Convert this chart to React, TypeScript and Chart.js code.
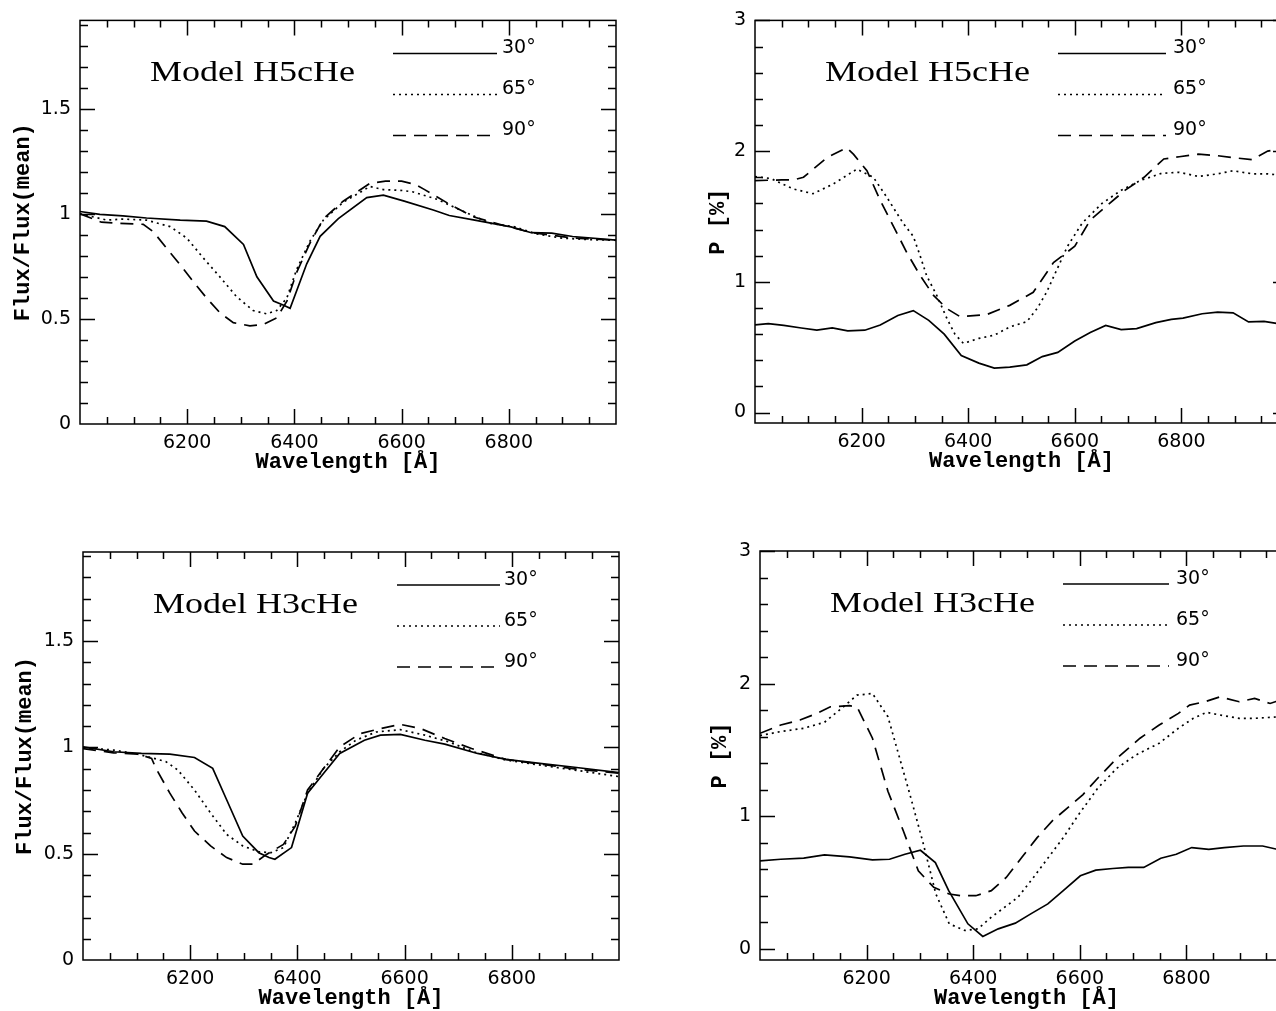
import React, { useEffect, useRef } from "react";
import { Chart, registerables } from "chart.js";
Chart.register(...registerables);

// ---------- labels ----------
const angleLabels = ["30°", "65°", "90°"];
const xTickValues = [6200, 6400, 6600, 6800];
const fluxTickValues = [0, 0.5, 1, 1.5];
const polTickValues = [0, 1, 2, 3];
const xAxisTitle = "Wavelength [Å]";
const fluxAxisTitle = "Flux/Flux(mean)";
const polAxisTitle = "P [%]";
const titleH5 = "Model H5cHe";
const titleH3 = "Model H3cHe";

// ---------- Model H5cHe : flux ----------
const h5FluxWl30 = [6000, 6037, 6080, 6124, 6187, 6236, 6270, 6305, 6330, 6361, 6380, 6392, 6423, 6448, 6482, 6535, 6566, 6605, 6659, 6689, 6739, 6804, 6842, 6880, 6919, 7000];
const h5Flux30 = [1.011, 0.997, 0.99, 0.98, 0.97, 0.965, 0.939, 0.854, 0.7, 0.585, 0.565, 0.55, 0.762, 0.893, 0.977, 1.077, 1.089, 1.06, 1.018, 0.992, 0.969, 0.938, 0.91, 0.908, 0.892, 0.875];
const h5FluxWl65 = [6000, 6050, 6080, 6124, 6168, 6199, 6230, 6261, 6292, 6323, 6348, 6367, 6386, 6404, 6429, 6454, 6491, 6541, 6566, 6597, 6620, 6666, 6712, 6766, 6811, 6850, 6896, 6949, 7000];
const h5Flux65 = [1.0, 0.97, 0.975, 0.97, 0.939, 0.885, 0.79, 0.7, 0.606, 0.54, 0.524, 0.54, 0.6, 0.734, 0.87, 0.97, 1.055, 1.13, 1.115, 1.112, 1.105, 1.069, 1.015, 0.954, 0.938, 0.905, 0.885, 0.877, 0.874];
const h5FluxWl90 = [6000, 6040, 6070, 6118, 6137, 6162, 6187, 6211, 6236, 6261, 6286, 6317, 6342, 6367, 6386, 6404, 6429, 6454, 6491, 6541, 6570, 6600, 6625, 6643, 6689, 6735, 6781, 6842, 6919, 7000];
const h5Flux90 = [1.0, 0.96, 0.955, 0.95, 0.914, 0.835, 0.757, 0.678, 0.6, 0.529, 0.482, 0.467, 0.474, 0.505, 0.584, 0.72, 0.86, 0.976, 1.06, 1.145, 1.155, 1.155, 1.14, 1.115, 1.046, 0.985, 0.951, 0.911, 0.885, 0.874];

// ---------- Model H5cHe : polarization ----------
const h5PolWl30 = [6000, 6025, 6054, 6087, 6116, 6145, 6174, 6206, 6235, 6268, 6297, 6326, 6355, 6387, 6420, 6449, 6478, 6510, 6539, 6568, 6600, 6629, 6658, 6687, 6716, 6752, 6781, 6803, 6839, 6868, 6897, 6926, 6955, 6990, 7000];
const h5Pol30 = [0.67, 0.68, 0.667, 0.647, 0.63, 0.647, 0.625, 0.63, 0.67, 0.743, 0.78, 0.705, 0.6, 0.436, 0.378, 0.34, 0.348, 0.365, 0.428, 0.46, 0.547, 0.612, 0.667, 0.635, 0.642, 0.688, 0.713, 0.723, 0.756, 0.768, 0.763, 0.693, 0.698, 0.675, 0.67];
const h5PolWl65 = [6000, 6030, 6072, 6109, 6147, 6191, 6222, 6247, 6278, 6297, 6310, 6322, 6341, 6360, 6375, 6391, 6420, 6449, 6478, 6510, 6530, 6547, 6566, 6586, 6614, 6651, 6687, 6723, 6763, 6796, 6832, 6868, 6897, 6933, 6962, 7000];
const h5Pol65 = [1.806, 1.79, 1.71, 1.674, 1.749, 1.862, 1.8, 1.649, 1.448, 1.348, 1.197, 1.047, 0.896, 0.72, 0.6, 0.529, 0.567, 0.592, 0.655, 0.695, 0.8, 0.92, 1.09, 1.27, 1.45, 1.6, 1.7, 1.776, 1.83, 1.838, 1.806, 1.826, 1.85, 1.826, 1.826, 1.81];
const h5PolWl90 = [6000, 6050, 6072, 6091, 6135, 6172, 6185, 6210, 6235, 6260, 6285, 6310, 6335, 6360, 6385, 6435, 6478, 6522, 6560, 6600, 6629, 6658, 6694, 6730, 6767, 6796, 6832, 6868, 6904, 6933, 6962, 7000];
const h5Pol90 = [1.774, 1.78, 1.78, 1.8, 1.95, 2.026, 1.975, 1.85, 1.623, 1.423, 1.222, 1.047, 0.896, 0.795, 0.733, 0.75, 0.82, 0.92, 1.147, 1.272, 1.473, 1.574, 1.7, 1.8, 1.94, 1.957, 1.977, 1.965, 1.947, 1.934, 2.0, 2.03];

// ---------- Model H3cHe : flux ----------
const h3FluxWl30 = [6000, 6057, 6109, 6162, 6208, 6242, 6268, 6298, 6328, 6347, 6358, 6389, 6419, 6449, 6479, 6525, 6555, 6592, 6638, 6675, 6736, 6789, 6864, 6917, 7000];
const h3Flux30 = [1.003, 0.98, 0.972, 0.969, 0.953, 0.902, 0.754, 0.583, 0.505, 0.482, 0.474, 0.529, 0.785, 0.879, 0.972, 1.034, 1.058, 1.062, 1.034, 1.016, 0.972, 0.944, 0.922, 0.907, 0.882];
const h3FluxWl65 = [6000, 6057, 6102, 6132, 6155, 6177, 6208, 6238, 6268, 6298, 6328, 6351, 6374, 6396, 6419, 6449, 6479, 6509, 6547, 6592, 6638, 6683, 6728, 6789, 6864, 6925, 7000];
const h3Flux65 = [1.0, 0.988, 0.969, 0.949, 0.933, 0.894, 0.8, 0.692, 0.591, 0.537, 0.509, 0.505, 0.529, 0.645, 0.785, 0.902, 0.98, 1.034, 1.073, 1.084, 1.058, 1.026, 0.98, 0.941, 0.913, 0.891, 0.863];
const h3FluxWl90 = [6000, 6057, 6102, 6128, 6136, 6162, 6185, 6208, 6238, 6268, 6298, 6317, 6343, 6374, 6396, 6419, 6449, 6479, 6517, 6555, 6592, 6630, 6675, 6725, 6789, 6864, 6925, 7000];
const h3Flux90 = [0.995, 0.975, 0.969, 0.949, 0.902, 0.785, 0.692, 0.607, 0.537, 0.482, 0.451, 0.451, 0.498, 0.544, 0.63, 0.8, 0.902, 1.003, 1.065, 1.089, 1.109, 1.089, 1.042, 0.995, 0.944, 0.918, 0.897, 0.879];

// ---------- Model H3cHe : polarization ----------
const h3PolWl30 = [6000, 6039, 6082, 6121, 6168, 6211, 6243, 6272, 6301, 6329, 6354, 6390, 6418, 6447, 6479, 6508, 6540, 6569, 6601, 6630, 6662, 6691, 6720, 6752, 6781, 6810, 6842, 6871, 6907, 6943, 6978, 7000];
const h3Pol30 = [0.663, 0.675, 0.683, 0.708, 0.693, 0.67, 0.675, 0.713, 0.743, 0.65, 0.438, 0.188, 0.093, 0.15, 0.193, 0.263, 0.338, 0.438, 0.55, 0.593, 0.605, 0.613, 0.613, 0.683, 0.713, 0.763, 0.75, 0.763, 0.775, 0.775, 0.743, 0.73];
const h3PolWl65 = [6000, 6039, 6082, 6121, 6153, 6182, 6211, 6240, 6262, 6283, 6305, 6330, 6355, 6384, 6409, 6434, 6459, 6484, 6513, 6541, 6569, 6598, 6634, 6670, 6706, 6749, 6785, 6813, 6838, 6863, 6899, 6928, 6976, 7000];
const h3Pol65 = [1.608, 1.638, 1.663, 1.708, 1.813, 1.913, 1.925, 1.75, 1.438, 1.138, 0.813, 0.413, 0.188, 0.138, 0.15, 0.238, 0.313, 0.388, 0.538, 0.688, 0.838, 1.013, 1.213, 1.363, 1.463, 1.55, 1.663, 1.738, 1.783, 1.763, 1.738, 1.738, 1.75, 1.75];
const h3PolWl90 = [6000, 6039, 6075, 6107, 6132, 6168, 6182, 6211, 6240, 6269, 6297, 6326, 6355, 6376, 6405, 6434, 6462, 6491, 6520, 6548, 6577, 6606, 6634, 6670, 6713, 6749, 6785, 6806, 6835, 6863, 6899, 6928, 6957, 6976, 7000];
const h3Pol90 = [1.625, 1.688, 1.725, 1.775, 1.825, 1.833, 1.825, 1.588, 1.188, 0.888, 0.588, 0.463, 0.413, 0.4, 0.4, 0.438, 0.538, 0.688, 0.838, 0.963, 1.063, 1.163, 1.288, 1.438, 1.588, 1.688, 1.775, 1.838, 1.863, 1.9, 1.863, 1.888, 1.85, 1.875, 1.87];

// ---------- styles ----------
const DASHES: number[][] = [[], [2, 4], [13, 8]];
const TICK_FONT = '19px "DejaVu Sans"';
const AXIS_TITLE_FONT = 'bold 22px "Liberation Mono"';
const PANEL_TITLE_FONT = '30px "Liberation Serif"';

type Series = { wl: number[]; val: number[] };

interface PanelSpec {
  left: number; top: number; w: number; h: number;
  yAxisW: number; padTop: number; padRight: number; xAxisH: number;
  yMin: number; yMax: number; yMajor: number; yMinor: number;
  yTicks: number[]; yTitle: string; yTitleDx: number;
  legX0: number; legX1: number; legTextX: number;
  title: string; series: Series[];
}

function Panel({ spec }: { spec: PanelSpec }) {
  const ref = useRef<HTMLCanvasElement>(null);
  useEffect(() => {
    const canvas = ref.current!;
    const datasets = spec.series.map((s, i) => ({
      label: angleLabels[i],
      data: s.wl.map((w, j) => ({ x: w, y: s.val[j] })),
      borderColor: "#000",
      borderWidth: 1.7,
      borderDash: DASHES[i],
      pointRadius: 0,
      fill: false,
      tension: 0,
    }));
    const frame = {
      id: "frame",
      afterDatasetsDraw(chart: any) {
        const { ctx, chartArea: a } = chart;
        const xs = chart.scales.x;
        const ys = chart.scales.y;
        ctx.save();
        ctx.strokeStyle = "#000";
        ctx.fillStyle = "#000";
        ctx.lineWidth = 1.5;
        ctx.setLineDash([]);
        ctx.strokeRect(a.left, a.top, a.right - a.left, a.bottom - a.top);
        // x ticks (bottom + top)
        ctx.beginPath();
        for (let v = 6050; v < 7000; v += 50) {
          const px = Math.round(xs.getPixelForValue(v)) + 0.5;
          const len = v % 200 === 0 ? 15 : 7;
          ctx.moveTo(px, a.bottom); ctx.lineTo(px, a.bottom - len);
          ctx.moveTo(px, a.top); ctx.lineTo(px, a.top + len);
        }
        // y ticks (left + right)
        const k0 = Math.ceil(spec.yMin / spec.yMinor - 1e-6);
        const k1 = Math.floor(spec.yMax / spec.yMinor + 1e-6);
        for (let k = k0; k <= k1; k++) {
          const v = k * spec.yMinor;
          if (v <= spec.yMin + 1e-6 && spec.yMin === 0) continue;
          const r = v / spec.yMajor;
          const major = Math.abs(r - Math.round(r)) < 1e-6;
          const len = major ? 15 : 8;
          const py = Math.round(ys.getPixelForValue(v)) + 0.5;
          ctx.moveTo(a.left, py); ctx.lineTo(a.left + len, py);
          ctx.moveTo(a.right, py); ctx.lineTo(a.right - len, py);
        }
        ctx.stroke();
        // legend
        const legY = [33, 74, 115];
        for (let i = 0; i < 3; i++) {
          const y = a.top + legY[i];
          ctx.beginPath();
          ctx.setLineDash(DASHES[i]);
          ctx.lineWidth = 1.5;
          ctx.moveTo(a.left + spec.legX0, y);
          ctx.lineTo(a.left + spec.legX1, y);
          ctx.stroke();
          ctx.setLineDash([]);
          ctx.font = TICK_FONT;
          ctx.textAlign = "left";
          ctx.textBaseline = "alphabetic";
          ctx.fillText(angleLabels[i], a.left + spec.legTextX, y);
        }
        // panel title
        ctx.save();
        ctx.translate(a.left + 70, a.top + 61);
        ctx.scale(1.2, 1);
        ctx.font = PANEL_TITLE_FONT;
        ctx.textAlign = "left";
        ctx.textBaseline = "alphabetic";
        ctx.fillText(spec.title, 0, 0);
        ctx.restore();
        // x axis title
        ctx.font = AXIS_TITLE_FONT;
        ctx.textAlign = "center";
        ctx.textBaseline = "middle";
        ctx.fillText(xAxisTitle, (a.left + a.right) / 2, a.bottom + 38);
        // y axis title
        ctx.save();
        ctx.translate(a.left + spec.yTitleDx, (a.top + a.bottom) / 2);
        ctx.rotate(-Math.PI / 2);
        ctx.fillText(spec.yTitle, 0, 0);
        ctx.restore();
        ctx.restore();
      },
    };
    const chart = new Chart(canvas, {
      type: "line",
      data: { datasets: datasets as any },
      options: {
        animation: false,
        responsive: false,
        maintainAspectRatio: false,
        devicePixelRatio: 1,
        layout: { padding: { left: 0, top: spec.padTop, right: spec.padRight, bottom: 0 } },
        plugins: { legend: { display: false }, tooltip: { enabled: false } },
        scales: {
          x: {
            type: "linear",
            min: 6000,
            max: 7000,
            grid: { display: false, drawTicks: false },
            border: { display: false },
            afterBuildTicks: (s: any) => { s.ticks = xTickValues.map((v) => ({ value: v })); },
            ticks: {
              autoSkip: false,
              maxRotation: 0,
              padding: 8,
              color: "#000",
              font: { family: "DejaVu Sans", size: 19 },
              callback: (v: any) => String(Math.round(Number(v))),
            },
            afterFit: (s: any) => { s.height = spec.xAxisH; },
          },
          y: {
            type: "linear",
            min: spec.yMin,
            max: spec.yMax,
            grid: { display: false, drawTicks: false },
            border: { display: false },
            afterBuildTicks: (s: any) => { s.ticks = spec.yTicks.map((v) => ({ value: v })); },
            ticks: {
              autoSkip: false,
              padding: 9,
              color: "#000",
              font: { family: "DejaVu Sans", size: 19 },
              callback: (v: any) => String(Number(Number(v).toFixed(2))),
            },
            afterFit: (s: any) => { s.width = spec.yAxisW; },
          },
        },
      } as any,
      plugins: [frame],
    });
    return () => chart.destroy();
  }, [spec]);
  return (
    <canvas
      ref={ref}
      width={spec.w}
      height={spec.h}
      style={{ position: "absolute", left: spec.left, top: spec.top }}
    />
  );
}

const panels: PanelSpec[] = [
  {
    left: 0, top: 0, w: 640, h: 490, yAxisW: 80, padTop: 16, padRight: 24, xAxisH: 66,
    yMin: 0, yMax: 1.92, yMajor: 0.5, yMinor: 0.1, yTicks: fluxTickValues,
    yTitle: fluxAxisTitle, yTitleDx: -57, legX0: 313, legX1: 417, legTextX: 422, title: titleH5,
    series: [{ wl: h5FluxWl30, val: h5Flux30 }, { wl: h5FluxWl65, val: h5Flux65 }, { wl: h5FluxWl90, val: h5Flux90 }],
  },
  {
    left: 680, top: 0, w: 620, h: 490, yAxisW: 75, padTop: 14, padRight: 12, xAxisH: 67,
    yMin: -0.08, yMax: 3, yMajor: 1, yMinor: 0.2, yTicks: polTickValues,
    yTitle: polAxisTitle, yTitleDx: -37, legX0: 303, legX1: 411, legTextX: 418, title: titleH5,
    series: [{ wl: h5PolWl30, val: h5Pol30 }, { wl: h5PolWl65, val: h5Pol65 }, { wl: h5PolWl90, val: h5Pol90 }],
  },
  {
    left: 0, top: 530, w: 640, h: 481, yAxisW: 83, padTop: 22, padRight: 21, xAxisH: 51,
    yMin: 0, yMax: 1.92, yMajor: 0.5, yMinor: 0.1, yTicks: fluxTickValues,
    yTitle: fluxAxisTitle, yTitleDx: -58, legX0: 314, legX1: 417, legTextX: 421, title: titleH3,
    series: [{ wl: h3FluxWl30, val: h3Flux30 }, { wl: h3FluxWl65, val: h3Flux65 }, { wl: h3FluxWl90, val: h3Flux90 }],
  },
  {
    left: 680, top: 530, w: 620, h: 481, yAxisW: 80, padTop: 21, padRight: 7, xAxisH: 51,
    yMin: -0.085, yMax: 3, yMajor: 1, yMinor: 0.2, yTicks: polTickValues,
    yTitle: polAxisTitle, yTitleDx: -40, legX0: 303, legX1: 409, legTextX: 416, title: titleH3,
    series: [{ wl: h3PolWl30, val: h3Pol30 }, { wl: h3PolWl65, val: h3Pol65 }, { wl: h3PolWl90, val: h3Pol90 }],
  },
];

export default function App() {
  return (
    <div
      style={{
        position: "fixed", left: 0, top: 0, width: 1276, height: 1011,
        overflow: "hidden", background: "#fff",
      }}
    >
      {panels.map((p, i) => (
        <Panel key={i} spec={p} />
      ))}
    </div>
  );
}
